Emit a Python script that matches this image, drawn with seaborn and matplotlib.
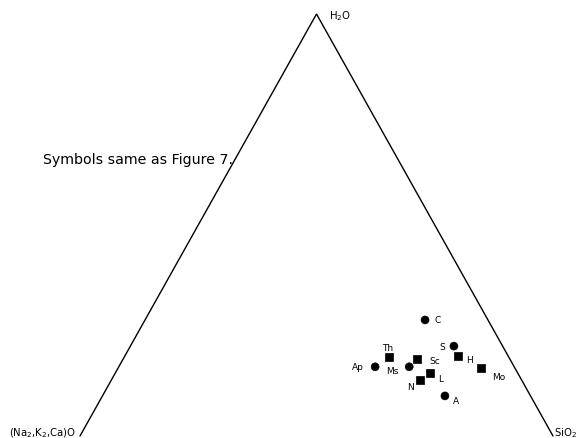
import numpy as np
import pandas as pd
import matplotlib
matplotlib.use("Agg")
import matplotlib.pyplot as plt
import seaborn as sns

# --- Data (ternary percentages) ---
names = ["C", "Th", "Ap", "Ms", "Sc", "L", "N", "A", "S", "H", "Mo"]
h2o = [27.5, 18.7, 16.4, 16.4, 18.2, 14.9, 13.3, 9.5, 21.3, 19.0, 16.1]
sio2 = [59.2, 56.0, 54.2, 61.4, 62.1, 66.5, 65.3, 72.4, 68.4, 70.4, 76.7]
alkali = [100 - a - b for a, b in zip(h2o, sio2)]
symbol = ["circle", "square", "circle", "circle", "square", "square",
          "square", "circle", "circle", "square", "square"]

# label offsets (points) relative to each marker
label_dx = [7, -1, -8, -8, 9, 6, -5, 6, -6, 6, 8]
label_dy = [0, 7, 0, -3, -1, -4, -5, -3, 0, -3, -6]

vertex_labels = ["(Na$_2$,K$_2$,Ca)O", "H$_2$O", "SiO$_2$"]

sns.set_style("white")
plt.rcParams['font.family'] = ['DejaVu Sans']
plt.rcParams['mathtext.default'] = 'regular'
plt.rcParams['text.color'] = 'black'

df = pd.DataFrame({"name": names, "H2O": h2o, "SiO2": sio2,
                   "Alk": alkali, "symbol": symbol})
# ternary -> cartesian (left = alkali, right = SiO2, top = H2O)
df["x"] = (df["SiO2"] + 0.5 * df["H2O"]) / 100.0
df["y"] = df["H2O"] / 100.0

fig = plt.figure(figsize=(5.77, 4.39), dpi=100)
ax = fig.add_axes([0, 0, 1, 1])

# triangle sides (no base line in the original)
tri_x = [0.0, 0.5, 1.0]
tri_y = [0.0, 1.0, 0.0]
ax.plot(tri_x, tri_y, color="black", linewidth=1.0, solid_joinstyle="miter")

sns.scatterplot(data=df, x="x", y="y", style="symbol",
                markers={"circle": "o", "square": "s"},
                color="black", s=32, edgecolor="black", linewidth=0.5,
                legend=False, ax=ax, zorder=3)

for i, row in df.iterrows():
    ha = "left" if label_dx[i] > 2 else ("right" if label_dx[i] < -2 else "center")
    ax.annotate(row["name"], (row["x"], row["y"]),
                xytext=(label_dx[i], label_dy[i]), textcoords="offset points",
                ha=ha, va="center", fontsize=6.5)

# vertex labels
ax.annotate(vertex_labels[0], (0.0, 0.0), xytext=(-3, 3), textcoords="offset points",
            ha="right", va="center", fontsize=7.3)
ax.annotate(vertex_labels[1], (0.5, 1.0), xytext=(9, -1), textcoords="offset points",
            ha="left", va="center", fontsize=7.3)
ax.annotate(vertex_labels[2], (1.0, 0.0), xytext=(1, 3), textcoords="offset points",
            ha="left", va="center", fontsize=7.3)

ax.text(0.074, 0.636, "Symbols same as Figure 7.", transform=ax.transAxes,
        fontsize=10.2, ha="left", va="center")

ax.set_xlim(-80 / 473, 497 / 473)
ax.set_ylim(-2 / 422, 437 / 422)
ax.set_axis_off()

plt.savefig("out.png", dpi=100)
plt.close()
